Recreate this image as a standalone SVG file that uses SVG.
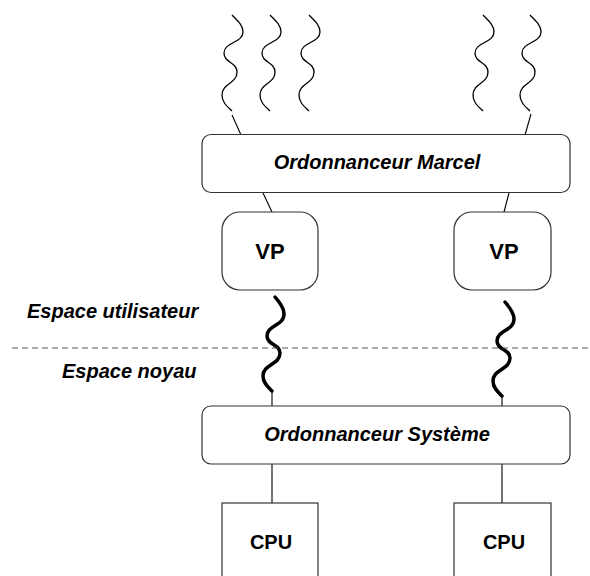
<svg xmlns="http://www.w3.org/2000/svg" xmlns:xlink="http://www.w3.org/1999/xlink" width="590" height="576" viewBox="0 0 590 576">
<style>
  .box { fill: #ffffff; stroke: #333333; stroke-width: 1.2; }
  .t { font-family: "Liberation Sans", Arial, sans-serif; font-weight: bold; fill: #000000; }
  .bi { font-style: italic; font-size: 20px; }
  .wave { fill: none; stroke: #000000; stroke-width: 1.3; }
  .thick { fill: none; stroke: #000000; stroke-width: 3.5; stroke-linecap: round; }
  .ln { fill: none; stroke: #000000; stroke-width: 1.1; }
  .dash { fill: none; stroke: #555555; stroke-width: 1; stroke-dasharray: 6 4; }
</style>
<defs>
  <path id="wave" d="M0,0 C5,5 11,10 11,17 C11,28 -8,27 -8,38 C-8,48 5,47 5,57 C5,69 -10,68 -10,80 C-10,88 -4,92 0,96"/>
  <path id="twave" d="M0,0 C4,5 9,10 9,17 C9,29 -8,28 -8,39 C-8,48 5,47 5,56 C5,68 -12,67 -12,79 C-12,86 -7,90 -3,94"/>
</defs>
<rect width="590" height="576" fill="#ffffff"/>

<g id="connectors">
  <use href="#wave" xlink:href="#wave" class="wave" x="232" y="15"/>
  <use href="#wave" xlink:href="#wave" class="wave" x="270" y="15"/>
  <use href="#wave" xlink:href="#wave" class="wave" x="309" y="15"/>
  <use href="#wave" xlink:href="#wave" class="wave" x="483" y="15"/>
  <use href="#wave" xlink:href="#wave" class="wave" x="530" y="15"/>
  <line class="ln" x1="232" y1="115" x2="241" y2="135"/>
  <line class="ln" x1="531" y1="114" x2="525" y2="135"/>
  <line class="ln" x1="263" y1="193" x2="272" y2="212"/>
  <line class="ln" x1="509" y1="193" x2="504" y2="212"/>
  <use href="#twave" xlink:href="#twave" class="thick" x="275" y="297"/>
  <use href="#twave" xlink:href="#twave" class="thick" x="505" y="302"/>
  <line class="ln" x1="272" y1="391" x2="272" y2="406"/>
  <line class="ln" x1="502" y1="396" x2="502" y2="406"/>
  <line class="ln" x1="272" y1="464" x2="272" y2="503"/>
  <line class="ln" x1="502" y1="464" x2="502" y2="503"/>
</g>

<g id="separator">
  <line class="dash" x1="12" y1="348" x2="590" y2="348"/>
  <text class="t bi" x="27" y="318">Espace utilisateur</text>
  <text class="t bi" x="62" y="378">Espace noyau</text>
</g>

<g id="marcel">
  <rect class="box" x="202" y="134.5" width="368" height="58" rx="9"/>
  <text class="t bi" x="377" y="169" text-anchor="middle">Ordonnanceur Marcel</text>
</g>

<g id="vp1">
  <rect class="box" x="222" y="212" width="96" height="78" rx="18"/>
  <text class="t" x="270" y="259" font-size="22" text-anchor="middle">VP</text>
</g>

<g id="vp2">
  <rect class="box" x="454" y="212" width="97" height="78" rx="18"/>
  <text class="t" x="504" y="259" font-size="22" text-anchor="middle">VP</text>
</g>

<g id="systeme">
  <rect class="box" x="202" y="406" width="368" height="58" rx="9"/>
  <text class="t bi" x="377" y="441" text-anchor="middle">Ordonnanceur Système</text>
</g>

<g id="cpu1">
  <rect class="box" x="222" y="503" width="96" height="80"/>
  <text class="t" x="271" y="549" font-size="20" text-anchor="middle">CPU</text>
</g>

<g id="cpu2">
  <rect class="box" x="454" y="503" width="97" height="80"/>
  <text class="t" x="504" y="549" font-size="20" text-anchor="middle">CPU</text>
</g>
</svg>
